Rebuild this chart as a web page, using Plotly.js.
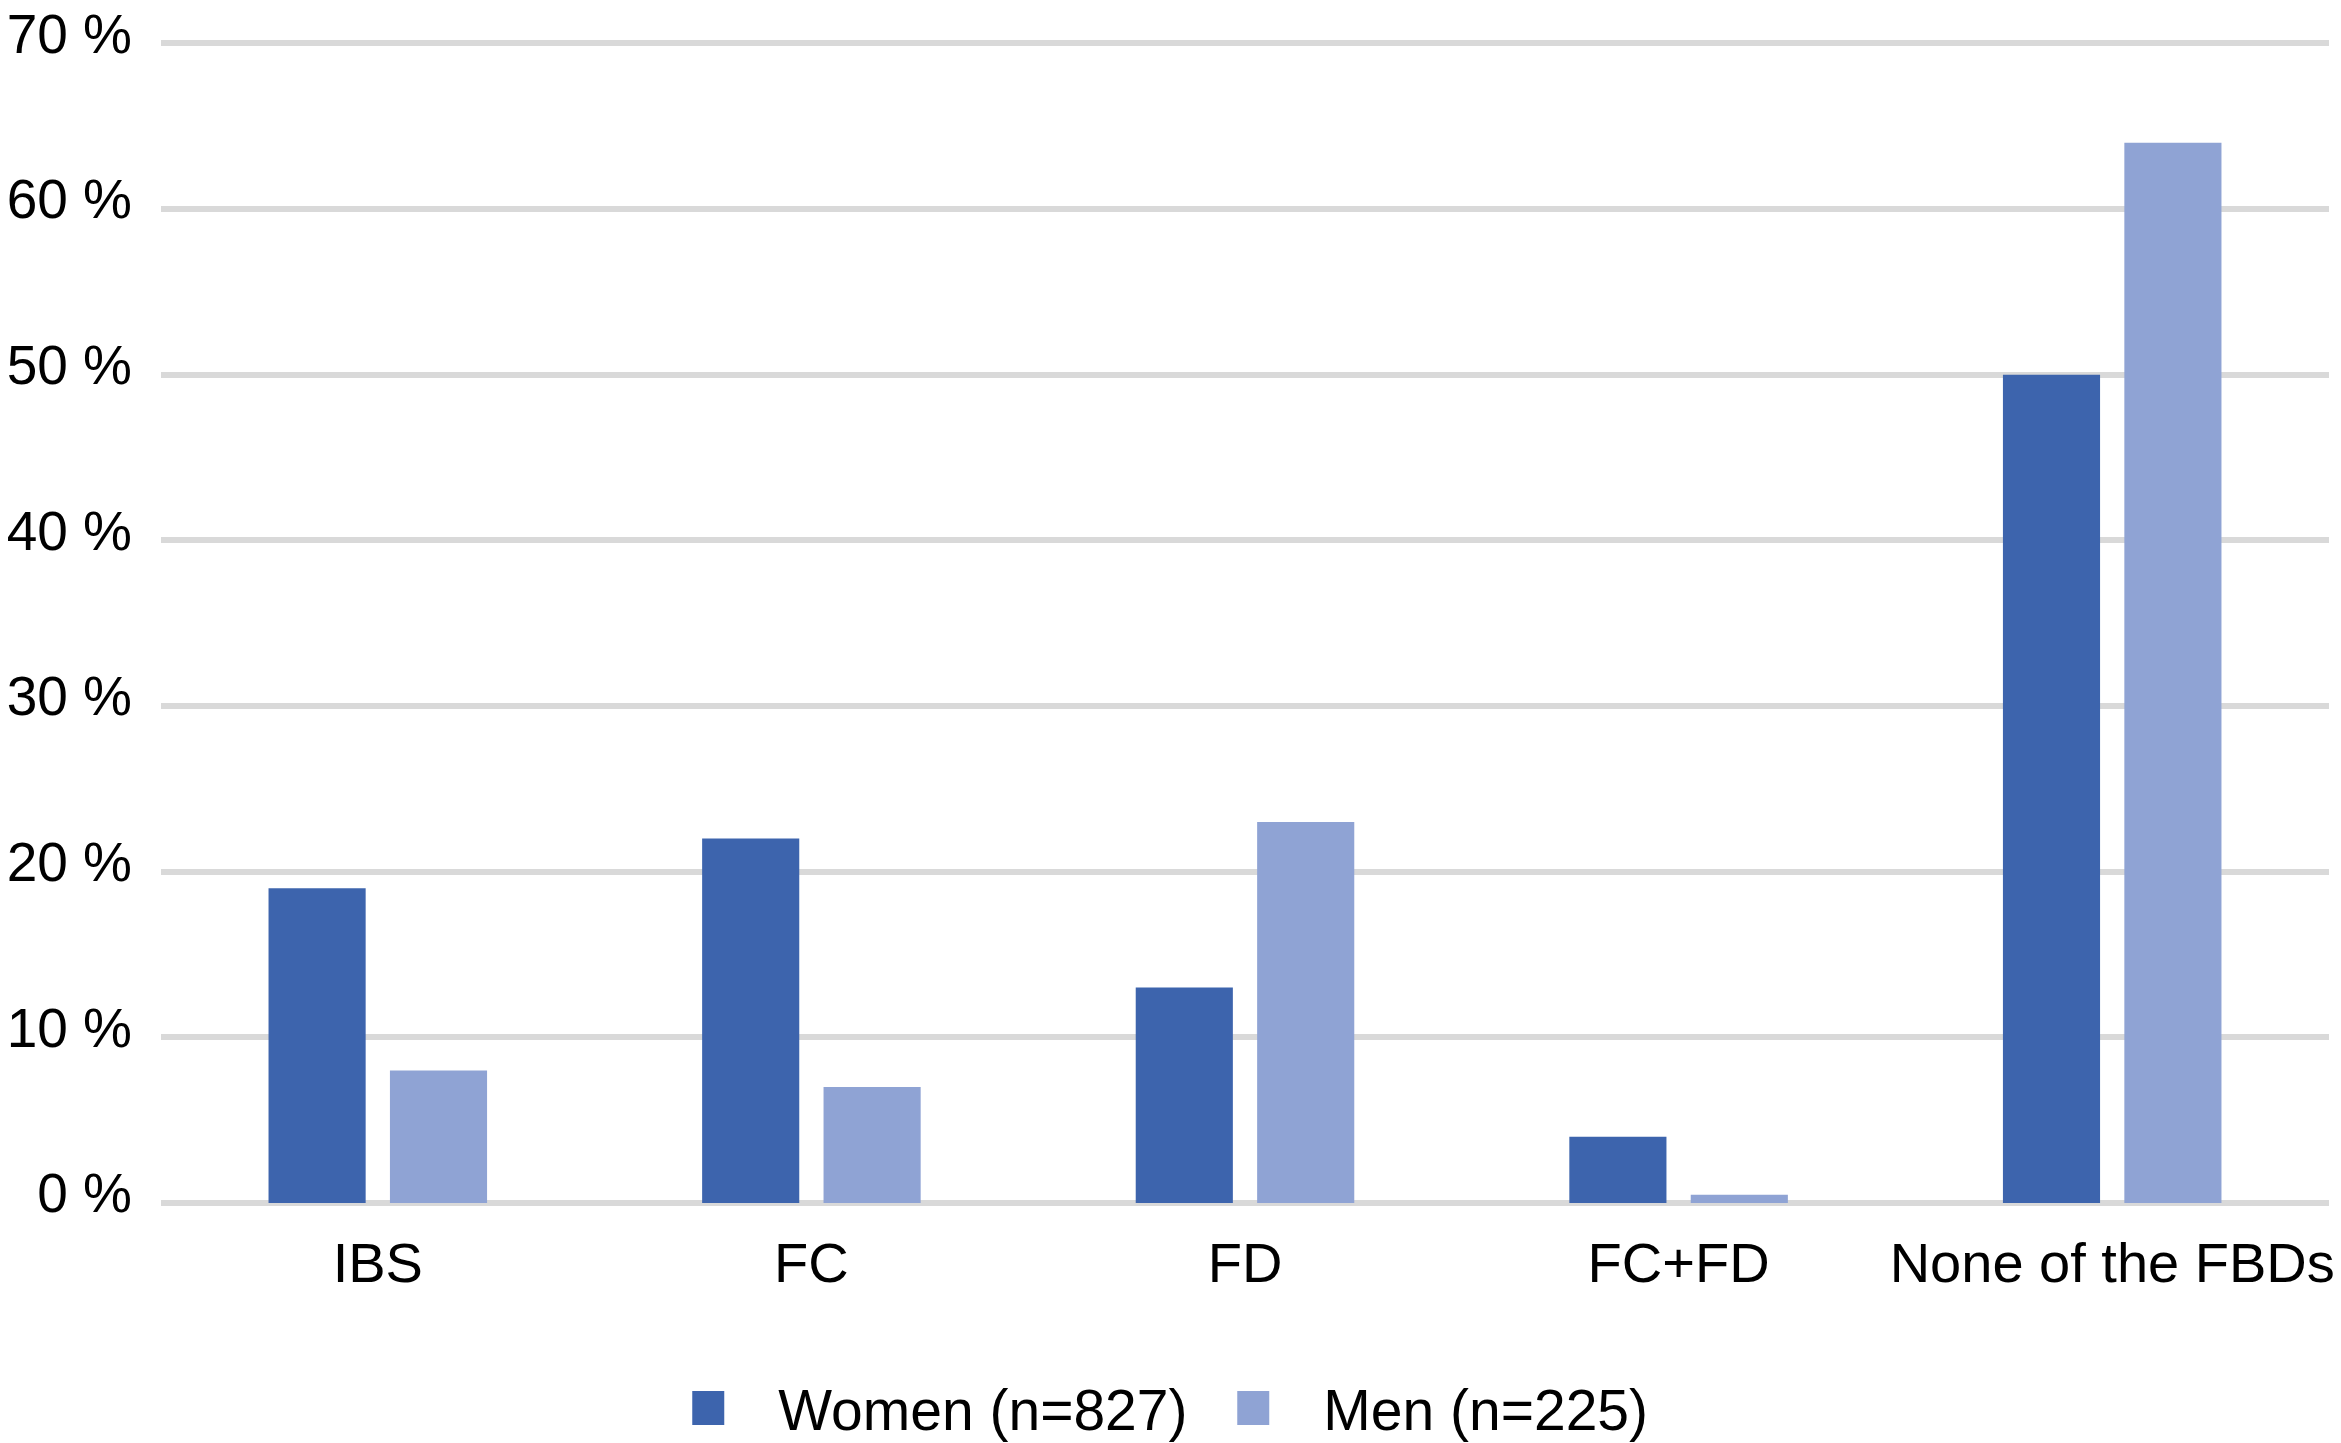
<!DOCTYPE html>
<html>
<head>
<meta charset="utf-8">
<script src="https://cdn.plot.ly/plotly-3.0.1.min.js"></script>
<style>
  html, body { margin: 0; padding: 0; background: #ffffff; }
  #chart { width: 2341px; height: 1443px; }
</style>
</head>
<body>
<div id="chart"></div>
<script>
// ---- data ----
const categories = ['IBS', 'FC', 'FD', 'FC+FD', 'None of the FBDs'];
const seriesNames = ['Women (n=827)', 'Men (n=225)'];
const womenValues = [19, 22, 13, 4, 50];
const menValues = [8, 7, 23, 0.5, 64];
const yTickValues = [0, 10, 20, 30, 40, 50, 60, 70];
const yTickLabels = ['0 %', '10 %', '20 %', '30 %', '40 %', '50 %', '60 %', '70 %'];

const FONT = 'Liberation Sans, Arial, Helvetica, sans-serif';

const traces = [
  {
    type: 'bar',
    name: seriesNames[0],
    x: categories,
    y: womenValues,
    marker: { color: '#3d64ad' },
    hoverinfo: 'x+y+name'
  },
  {
    type: 'bar',
    name: seriesNames[1],
    x: categories,
    y: menValues,
    marker: { color: '#8fa3d4' },
    hoverinfo: 'x+y+name'
  }
];

const layout = {
  width: 2341,
  height: 1443,
  paper_bgcolor: '#ffffff',
  plot_bgcolor: '#ffffff',
  margin: { l: 161, r: 12, t: 35, b: 240, pad: 0 },
  barmode: 'group',
  bargap: 0.44,
  bargroupgap: 0.2,
  font: { family: FONT, color: '#000000', size: 55 },
  xaxis: {
    type: 'category',
    showgrid: false,
    zeroline: false,
    showline: false,
    ticks: '',
    tickfont: { family: FONT, size: 56, color: '#000000' },
    ticklabelstandoff: 22,
    ticklabelshift: 0
  },
  yaxis: {
    range: [0, 70.5],
    tickmode: 'array',
    tickvals: yTickValues,
    ticktext: yTickLabels,
    showgrid: true,
    gridcolor: '#d9d9d9',
    gridwidth: 6,
    zeroline: true,
    zerolinecolor: '#d9d9d9',
    zerolinewidth: 6,
    showline: false,
    ticks: '',
    tickfont: { family: FONT, size: 55, color: '#000000' },
    ticklabelstandoff: 28,
    ticklabelshift: -10,
    ticklabeloverflow: 'allow'
  },
  showlegend: true,
  legend: {
    orientation: 'h',
    xref: 'container',
    yref: 'container',
    x: 0.294,
    xanchor: 'left',
    y: 0.024,
    yanchor: 'middle',
    entrywidth: 500,
    font: { family: FONT, size: 57, color: '#000000' },
    bgcolor: 'rgba(0,0,0,0)',
    traceorder: 'normal'
  }
};

Plotly.newPlot('chart', traces, layout, { displayModeBar: false, staticPlot: true }).then(function () {
  document.querySelectorAll('.legendpoints path').forEach(function (p) {
    p.setAttribute('d', 'M16,17H-16V-17H16Z');
  });
  document.querySelectorAll('.legend .legendtext').forEach(function (t) {
    t.setAttribute('transform', 'translate(50,0)');
  });
});
</script>
</body>
</html>
